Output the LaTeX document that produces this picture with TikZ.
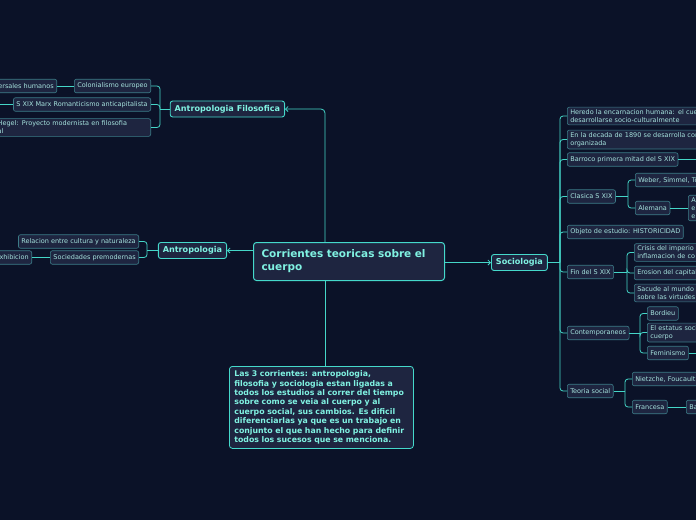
\documentclass[tikz,border=0pt]{standalone}
\usepackage{fontspec}
\setmainfont{DejaVu Sans}
\usetikzlibrary{arrows.meta,calc}
\definecolor{bg}{HTML}{0B1228}
\definecolor{nfill}{HTML}{1E2540}
\definecolor{subb}{HTML}{3C7C88}
\definecolor{subt}{HTML}{A6E3DE}
\definecolor{bright}{HTML}{45D9CB}
\definecolor{maint}{HTML}{80F2E2}
\definecolor{linec}{HTML}{45D6C8}
\tikzset{
  sub/.style={draw=subb, fill=nfill, rounded corners=2pt, line width=0.6pt, text=subt,
    font=\fontsize{6.5}{8}\selectfont, inner xsep=3pt, inner ysep=2.3pt, minimum height=13.5pt, align=left},
  topic/.style={draw=bright, fill=nfill, rounded corners=2.5pt, line width=0.9pt, text=maint,
    font=\bfseries\fontsize{8.1}{9.5}\selectfont, inner xsep=4.5pt, minimum height=16pt},
  conn/.style={draw=linec, line width=0.8pt, rounded corners=3pt},
  arr/.style={-{Straight Barb[length=2.5pt,width=5pt]}}
}
\begin{document}
\begin{tikzpicture}[x=1pt,y=-1pt]
\fill[bg] (0,0) rectangle (696,520);
\useasboundingbox (0,0) rectangle (696,520);

% central
\node[draw=bright, fill=nfill, rounded corners=3pt, line width=1pt, text=maint,
  font=\bfseries\fontsize{10.5}{13}\selectfont, anchor=north west, text width=175pt,
  inner xsep=8pt, minimum height=38pt, align=left] (cen) at (253,242)
  {Corrientes teoricas sobre el\\cuerpo};

% note
\node[draw=bright, fill=nfill, rounded corners=3pt, line width=0.8pt, text=maint,
  font=\bfseries\fontsize{7.8}{9.4}\selectfont, anchor=north west, text width=174pt,
  inner xsep=5pt, inner ysep=4pt, minimum height=82pt, align=left] (note) at (229,366)
  {Las 3 corrientes: antropologia,\\filosofia y sociologia estan ligadas a\\todos los estudios al correr del tiempo\\sobre como se veia al cuerpo y al\\cuerpo social, sus cambios. Es dificil\\diferenciarlas ya que es un trabajo en\\conjunto el que han hecho para definir\\todos los sucesos que se menciona.};

% topics
\node[topic, anchor=east] (AF) at (285,109) {Antropologia Filosofica};
\node[topic, anchor=east] (ANT) at (227,250.5) {Antropologia};
\node[topic, anchor=west] (SOC) at (491,262.5) {Sociologia};

% Antropologia Filosofica children
\node[sub, anchor=east] (col) at (151,86) {Colonialismo europeo};
\node[sub, anchor=east] (univ) at (57,86) {Universales humanos};
\node[sub, anchor=east] (marx) at (151,104.5) {S XIX Marx Romanticismo anticapitalista};
\coordinate (marxc) at (-5,104.5);
\node[sub, anchor=east, text width=150pt] (hegel) at (151,127.5) {Hegel: Proyecto modernista en filosofia\\al};

% Antropologia children
\node[sub, anchor=east] (rel) at (139,241.5) {Relacion entre cultura y naturaleza};
\node[sub, anchor=east] (prem) at (139,257.5) {Sociedades premodernas};
\node[sub, anchor=east] (exh) at (32,257.5) {Exhibicion};

% Sociologia children
\node[sub, anchor=west, text width=160pt] (s1) at (567,116) {Heredo la encarnacion humana: el cuerpo\\desarrollarse socio-culturalmente};
\node[sub, anchor=west, text width=160pt] (s2) at (567,139.5) {En la decada de 1890 se desarrolla como\\organizada};
\node[sub, anchor=west] (s3) at (567,159.5) {Barroco primera mitad del S XIX};
\coordinate (s3c) at (700,159.5);
\node[sub, anchor=west] (s4) at (567,196.5) {Clasica S XIX};
\node[sub, anchor=west] (weber) at (635,180) {Weber, Simmel, Tonnies};
\node[sub, anchor=west] (alem) at (635,208) {Alemana};
\node[sub, anchor=west, text width=40pt] (alemc) at (688,208) {A\\e\\e};
\node[sub, anchor=west] (s5) at (567,232) {Objeto de estudio: HISTORICIDAD};
\node[sub, anchor=west] (s6) at (567,272) {Fin del S XIX};
\node[sub, anchor=west, text width=80pt] (crisis) at (634,252.5) {Crisis del imperio\\inflamacion de co};
\node[sub, anchor=west] (eros) at (634,273) {Erosion del capitalismo};
\node[sub, anchor=west, text width=80pt] (sacude) at (634,293) {Sacude al mundo\\sobre las virtudes};
\node[sub, anchor=west] (s7) at (567,333) {Contemporaneos};
\node[sub, anchor=west] (bord) at (647,313.5) {Bordieu};
\node[sub, anchor=west, text width=80pt] (estat) at (647,332.5) {El estatus social del\\cuerpo};
\node[sub, anchor=west] (fem) at (647,353) {Feminismo};
\coordinate (femc) at (700,353);
\node[sub, anchor=west] (s8) at (567,391) {Teoria social};
\node[sub, anchor=west, text width=80pt] (nietz) at (632,379) {Nietzche, Foucault};
\node[sub, anchor=west] (fran) at (632,407) {Francesa};
\node[sub, anchor=west, text width=40pt] (ba) at (686,407) {Ba};

% main connectors
\draw[conn, rounded corners=4pt, arr] ($(cen.north west)+(72,0)$) |- (AF.east);
\draw[conn, arr] (cen.west |- ANT.east) -- (ANT.east);
\draw[conn, arr] (cen.east |- SOC.west) -- (SOC.west);
\draw[conn] ($(cen.south west)+(72,0)$) -- ($(note.north west)+(96,0)$);

% brackets
\coordinate (jAF) at (160,109);
\draw[conn] (AF.west) -- (jAF);
\foreach \c in {col,marx,hegel} \draw[conn] (jAF) |- (\c.east);

\coordinate (jANT) at (147,250.5);
\draw[conn] (ANT.west) -- (jANT);
\foreach \c in {rel,prem} \draw[conn] (jANT) |- (\c.east);

\coordinate (jSOC) at (560,262.5);
\draw[conn] (SOC.east) -- (jSOC);
\foreach \c in {s1,s2,s3,s4,s5,s6,s7,s8} \draw[conn] (jSOC) |- (\c.west);

\coordinate (j4) at (628,196.5);
\draw[conn] (s4.east) -- (j4);
\foreach \c in {weber,alem} \draw[conn] (j4) |- (\c.west);

\coordinate (j6) at (627,272);
\draw[conn] (s6.east) -- (j6);
\foreach \c in {crisis,eros,sacude} \draw[conn] (j6) |- (\c.west);

\coordinate (j7) at (640,333);
\draw[conn] (s7.east) -- (j7);
\foreach \c in {bord,estat,fem} \draw[conn] (j7) |- (\c.west);

\coordinate (j8) at (625,391);
\draw[conn] (s8.east) -- (j8);
\foreach \c in {nietz,fran} \draw[conn] (j8) |- (\c.west);

% leaf links
\draw[conn] (col.west) -- (univ.east);
\draw[conn] (marx.west) -- (marxc);
\draw[conn] (prem.west) -- (exh.east);
\draw[conn] (s3.east) -- (s3c);
\draw[conn] (alem.east) -- (alemc.west);
\draw[conn] (fem.east) -- (femc);
\draw[conn] (fran.east) -- (ba.west);
\end{tikzpicture}
\end{document}
